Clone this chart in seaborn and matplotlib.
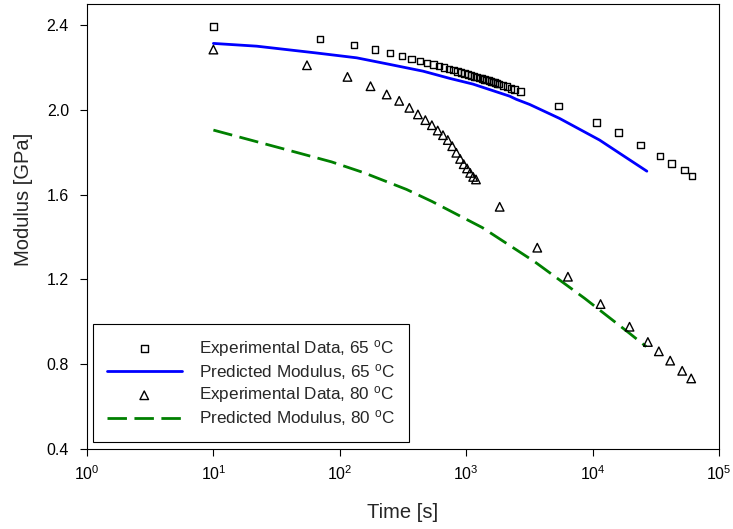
import matplotlib
matplotlib.use("Agg")
import matplotlib.pyplot as plt
import seaborn as sns

# experimental data, 65 C (time in s, modulus in GPa)
t_exp65 = [10, 70, 130, 190, 250, 310, 370, 430, 490, 550, 610, 670, 730, 790,
           850, 910, 970, 1030, 1090, 1150, 1210, 1270, 1330, 1390, 1450, 1510,
           1570, 1630, 1690, 1750, 1810, 1960, 2110, 2260, 2410, 2700,
           5390, 10690, 16070, 23830, 34270, 42140, 53100, 61420]
e_exp65 = [2.395, 2.334, 2.307, 2.285, 2.269, 2.255, 2.241, 2.232, 2.222, 2.215,
           2.208, 2.200, 2.194, 2.188, 2.182, 2.177, 2.172, 2.168, 2.163, 2.159,
           2.155, 2.151, 2.148, 2.144, 2.141, 2.138, 2.135, 2.132, 2.129, 2.126,
           2.123, 2.116, 2.110, 2.101, 2.097, 2.086,
           2.018, 1.942, 1.894, 1.835, 1.782, 1.748, 1.716, 1.688]

# predicted modulus, 65 C
t_pred65 = [10, 22, 65, 136, 248, 456, 741, 1132, 2208, 2495, 3177, 5480,
            11350, 17000, 26870]
e_pred65 = [2.314, 2.301, 2.269, 2.246, 2.215, 2.183, 2.149, 2.122, 2.065, 2.050,
            2.026, 1.960, 1.858, 1.789, 1.711]

# experimental data, 80 C
t_exp80 = [10, 55, 115, 175, 235, 295, 355, 415, 475, 535, 595, 655, 715, 775,
           835, 895, 955, 1015, 1075, 1135, 1195,
           1840, 3650, 6380, 11560, 19600, 27370, 33420, 41100, 51140, 60260]
e_exp80 = [2.285, 2.211, 2.156, 2.112, 2.073, 2.043, 2.010, 1.979, 1.952, 1.928,
           1.903, 1.881, 1.858, 1.829, 1.798, 1.769, 1.744, 1.724, 1.703, 1.684,
           1.672,
           1.543, 1.350, 1.213, 1.084, 0.977, 0.905, 0.861, 0.817, 0.769, 0.733]

# predicted modulus, 80 C
t_pred80 = [10, 35, 86, 153, 337, 537, 1340, 3475, 8650, 19590, 26550]
e_pred80 = [1.905, 1.818, 1.755, 1.705, 1.625, 1.568, 1.445, 1.284, 1.111, 0.946,
            0.883]

sns.set_style("ticks")
plt.rcParams["font.family"] = ["Liberation Sans", "DejaVu Sans"]
plt.rcParams["mathtext.fontset"] = "custom"
plt.rcParams["mathtext.rm"] = "Liberation Sans"
plt.rcParams["mathtext.it"] = "Liberation Sans:italic"
plt.rcParams["mathtext.default"] = "regular"

fig = plt.figure(figsize=(7.33, 5.29), dpi=100)
ax = fig.add_axes([87 / 733, 1 - 449 / 529, 632 / 733, 445 / 529])

sns.scatterplot(x=t_exp65, y=e_exp65, ax=ax, marker="s", s=22,
                facecolors="none", edgecolor="black", linewidth=1,
                label="Experimental Data, 65 $^{o}$C", zorder=3)
sns.lineplot(x=t_pred65, y=e_pred65, ax=ax, color="#0000ff", lw=2,
             label="Predicted Modulus, 65 $^{o}$C")
sns.scatterplot(x=t_exp80, y=e_exp80, ax=ax, marker="^", s=38,
                facecolors="none", edgecolor="black", linewidth=1,
                label="Experimental Data, 80 $^{o}$C", zorder=3)
sns.lineplot(x=t_pred80, y=e_pred80, ax=ax, color="#008000", lw=2,
             ls=(0, (7, 2.7)), label="Predicted Modulus, 80 $^{o}$C")

ax.set_xscale("log")
ax.set_xlim(1, 1e5)
ax.set_ylim(0.4, 2.5)
ax.set_yticks([0.4, 0.8, 1.2, 1.6, 2.0, 2.4])
ax.set_yticklabels(["0.4", "0.8", "1.2", "1.6", "2.0", "2.4"])
ax.minorticks_off()
ax.set_xticks([1, 10, 100, 1e3, 1e4, 1e5])
ax.tick_params(axis="both", direction="out", length=5, width=0.8,
               labelsize=11.5, pad=6, color="black", labelcolor="black")
ax.tick_params(axis="y", pad=8)
for sp in ax.spines.values():
    sp.set_visible(True)
    sp.set_color("black")
    sp.set_linewidth(0.8)

ax.set_xlabel("Time [s]", fontsize=14.5)
ax.set_ylabel("Modulus [GPa]", fontsize=14.5)
ax.xaxis.set_label_coords(0.5, -0.122)
ax.yaxis.set_label_coords(-0.086, 0.56)

leg = ax.legend(loc="lower left", bbox_to_anchor=(0.0095, 0.0157),
                borderaxespad=0, fontsize=12.3, frameon=True, fancybox=False,
                edgecolor="black", framealpha=1, handlelength=4.4,
                handletextpad=1.0, borderpad=0.8, labelspacing=0.17,
                scatterpoints=1)
leg.get_frame().set_linewidth(0.8)

fig.savefig("out.png", dpi=100)
